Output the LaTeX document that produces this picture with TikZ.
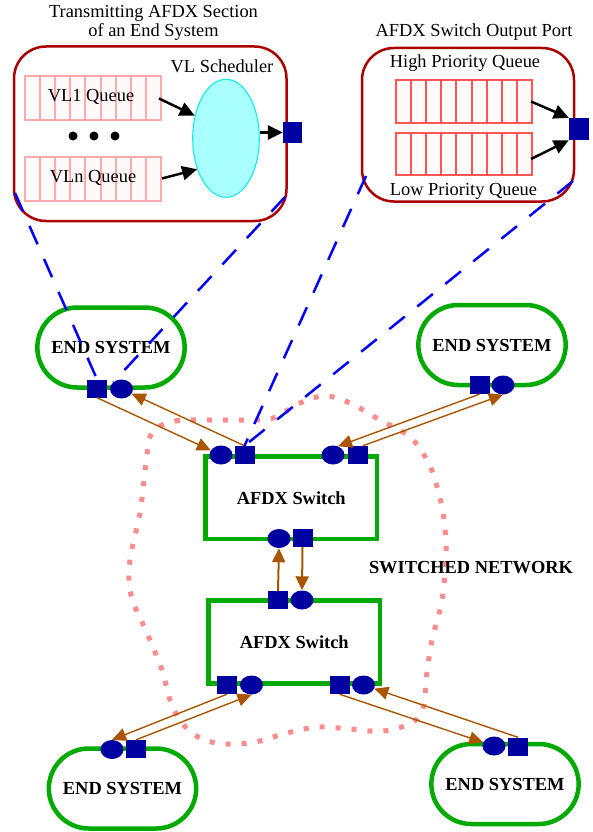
\documentclass[tikz,border=0pt]{standalone}
\usepackage{fontspec}
\setmainfont{Liberation Serif}
\usetikzlibrary{arrows.meta,shapes.geometric,shapes.misc}

\definecolor{esgreen}{RGB}{0,170,0}
\definecolor{portblue}{RGB}{0,0,160}
\definecolor{boxred}{RGB}{170,0,0}
\definecolor{flowbrown}{RGB}{170,85,0}
\definecolor{netpink}{RGB}{255,140,140}
\definecolor{qpink}{RGB}{255,170,170}
\definecolor{qred}{RGB}{255,85,85}
\definecolor{qfill}{RGB}{255,250,250}
\definecolor{schedfill}{RGB}{170,255,255}
\definecolor{schedline}{RGB}{0,235,245}
\definecolor{linkblue}{RGB}{0,0,255}

\newcommand{\diagfont}{\fontsize{18.4}{19.5}\selectfont}

\begin{document}
\begin{tikzpicture}[x=1pt,y=-1pt,font=\diagfont,
  endsys/.style={rounded rectangle, draw=esgreen, line width=4.5pt, minimum width=154pt, minimum height=80pt, font=\diagfont\bfseries},
  switch/.style={draw=esgreen, line width=4.5pt, minimum width=171.5pt, minimum height=82.5pt, font=\diagfont\bfseries},
  sect/.style={draw=boxred, line width=2.5pt, rounded corners=32pt},
  tlq/.style={draw=qpink, fill=qfill, line width=2pt, minimum width=136pt, minimum height=44pt, inner sep=0pt},
  trq/.style={draw=qred, fill=qfill, line width=2pt, minimum width=136pt, minimum height=43pt, inner sep=0pt},
  sq/.style={fill=portblue, minimum width=20pt, minimum height=18pt, inner sep=0pt},
  ci/.style={ellipse, fill=portblue, minimum width=23pt, minimum height=19pt, inner sep=0pt},
  flow/.style={draw=flowbrown, line width=1.4pt, -{Triangle[length=14pt,width=13pt]}},
  vflow/.style={flow, line width=2pt},
  qarrow/.style={draw=black, line width=2.5pt, -{Triangle[length=15pt,width=14pt]}},
  link/.style={draw=linkblue, line width=2.5pt, dash pattern=on 20pt off 16pt},
  netline/.style={draw=netpink, line width=5pt, dash pattern=on 5pt off 11pt}]

\useasboundingbox (0,0) rectangle (592,832);

\draw [netline] plot[smooth cycle, tension=.6] coordinates {(152,433) (175,421) (215,420) (255,420) (276,417) (300,403) (325,396) (350,403) (380,420) (410,437) (428,462) (438,490) (444,520) (446,555) (442,600) (432,640) (426,680) (424,705) (413,722) (383,731) (350,729) (318,727) (287,733) (255,742) (225,744) (200,738) (182,723) (170,700) (162,670) (147,633) (131,595) (130,560) (140,513) (146,463)};

\node (txsec) at (150.25,133.75) [sect, minimum width=272.5pt, minimum height=174.5pt] {};
\node (txtitle) at (153.5,18) [anchor=base] {Transmitting AFDX Section};
\node (txtitleb) at (153.5,37) [anchor=base] {of an End System};
\node (vl1q) at (93,98.5) [tlq] {};
\node (vlnq) at (93,178.5) [tlq] {};
\foreach \i in {1,...,8} {
  \draw [qpink, line width=2pt] (25+\i*15.11,76.5) -- ++(0,44);
  \draw [qpink, line width=2pt] (25+\i*15.11,156.5) -- ++(0,44);
}
\node (vl1t) at (91,102) [anchor=base] {VL1 Queue};
\node (vlnt) at (93,182) [anchor=base] {VLn Queue};
\foreach \x in {73,94,115} \fill (\x,136) circle (4.5pt);
\node (sched) at (226,138.3) [ellipse, draw=schedline, fill=schedfill, line width=1pt, minimum width=66.6pt, minimum height=118pt, inner sep=0pt] {};
\node (schedt) at (222,73) [anchor=base] {VL Scheduler};
\node (txp) at (292.5,132.5) [sq, minimum width=19pt, minimum height=21pt] {};
\draw [qarrow] ([xshift=-3pt]vl1q.east) -- (sched.144);
\draw [qarrow] (vlnq.east) -- (sched.227);
\draw [qarrow] (sched.east |- txp) -- (txp.west);

\node (outport) at (468,124.75) [sect, minimum width=212pt, minimum height=153.5pt] {};
\node (outtitle) at (474,37) [anchor=base] {AFDX Switch Output Port};
\node (hiq) at (464,101.5) [trq] {};
\node (loq) at (464,154) [trq, minimum height=42pt] {};
\foreach \i in {1,...,8} {
  \draw [qred, line width=2pt] (396+\i*15.11,80) -- ++(0,43);
  \draw [qred, line width=2pt] (396+\i*15.11,133) -- ++(0,42);
}
\node (hit) at (465,68) [anchor=base] {High Priority Queue};
\node (lot) at (463.5,195) [anchor=base] {Low Priority Queue};
\node (opp) at (579,129) [sq, minimum height=22pt] {};
\draw [qarrow] ([xshift=-2pt]hiq.east) -- (opp.north west);
\draw [qarrow] ([xshift=-2pt,yshift=-5pt]loq.east) -- (opp.south west);

\node (es1) at (111,347.5) [endsys] {END SYSTEM};
\node (es2) at (492,345) [endsys] {END SYSTEM};
\node (es3) at (122.5,788.5) [endsys] {END SYSTEM};
\node (es4) at (505,784) [endsys] {END SYSTEM};
\node (sw1) at (291.25,497.75) [switch] {AFDX Switch};
\node (sw2) at (294.25,642) [switch, minimum height=83pt] {AFDX Switch};
\node (netlabel) at (471,573) [anchor=base, font=\diagfont\bfseries] {SWITCHED NETWORK};

\node (es1s) at (97,388.5) [sq] {};
\node (es1c) at (121.5,389) [ci] {};
\node (es2s) at (479.5,385) [sq] {};
\node (es2c) at (503,385) [ci] {};
\node (es3c) at (112,749.5) [ci] {};
\node (es3s) at (136,749) [sq] {};
\node (es4c) at (494,746) [ci] {};
\node (es4s) at (518,746.5) [sq] {};
\node (sw1c1) at (221,455) [ci] {};
\node (sw1s1) at (244.5,455) [sq] {};
\node (sw1c2) at (333,455) [ci] {};
\node (sw1s2) at (357.5,455) [sq] {};
\node (sw1c3) at (279,538.5) [ci] {};
\node (sw1s3) at (302.5,538) [sq] {};
\node (sw2s1) at (278,600) [sq] {};
\node (sw2c1) at (302,600) [ci] {};
\node (sw2s3) at (227,685) [sq] {};
\node (sw2c3) at (251.5,685) [ci] {};
\node (sw2s4) at (339.5,685) [sq] {};
\node (sw2c4) at (363.5,685) [ci] {};

\draw [flow] (es1s.south) -- (sw1c1);
\draw [flow] (sw1s1.north) -- (es1c);
\draw [flow] (es2s.south) -- (sw1c2.60);
\draw [flow] (sw1s2.60) -- (es2c.south);
\draw [flow] (sw2s3.south) -- (es3c.north);
\draw [flow] (es3s.north) -- (sw2c3.south);
\draw [flow] (sw2s4.south) -- (es4c);
\draw [flow] (es4s.north) -- (sw2c4);
\draw [vflow] (sw2s1.north) -- (sw1c3.south);
\draw [vflow] (sw1s3.south) -- (sw2c1.north);

\coordinate (txbl) at (15,193);
\coordinate (txbr) at (285,197);
\coordinate (opbl) at (366,176);
\coordinate (opbr) at (573,181);
\draw [link] (txbl) -- (es1s.north);
\draw [link] (txbr) -- (es1c.north west);
\draw [link] (opbl) -- (sw1s1.north);
\draw [link] (opbr) -- (sw1s1.north);
\end{tikzpicture}
\end{document}
